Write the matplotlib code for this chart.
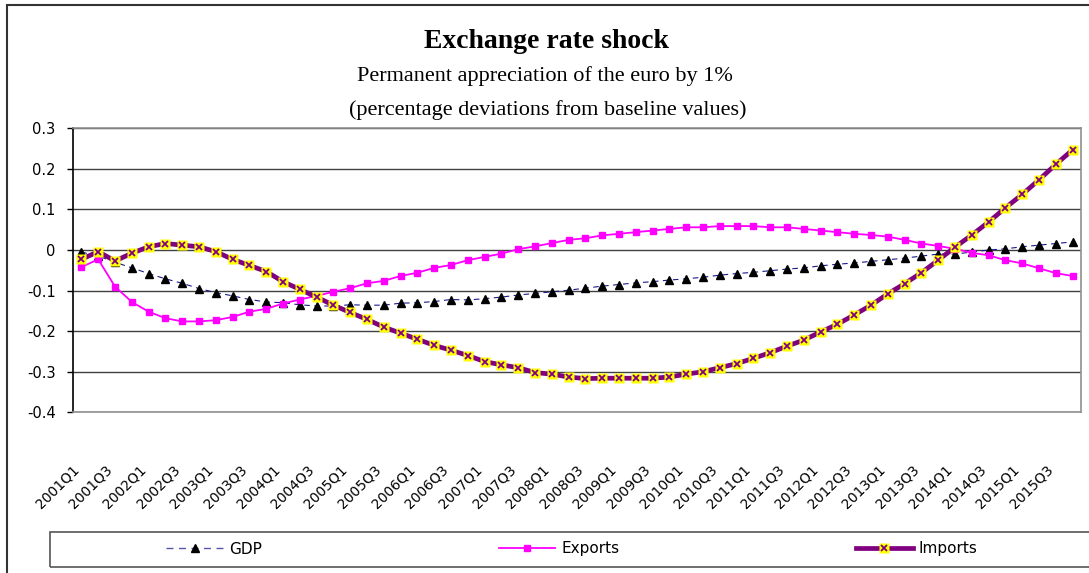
import numpy as np
import matplotlib
matplotlib.use('Agg')
import matplotlib.pyplot as plt
from matplotlib.lines import Line2D
from matplotlib.patches import Rectangle
from matplotlib.legend_handler import HandlerTuple

plt.rcParams['axes.unicode_minus'] = False

# quarters 2001Q1 .. 2015Q4
quarters = [f'{y}Q{q}' for y in range(2001, 2016) for q in range(1, 5)]

gdp = [-0.005, -0.015, -0.030, -0.044, -0.058, -0.071, -0.082, -0.095, -0.105, -0.113,
       -0.122, -0.128, -0.130, -0.135, -0.138, -0.138, -0.135, -0.136, -0.136, -0.131,
       -0.130, -0.127, -0.122, -0.123, -0.120, -0.116, -0.111, -0.107, -0.103, -0.099,
       -0.094, -0.089, -0.085, -0.081, -0.078, -0.074, -0.071, -0.067, -0.062, -0.058,
       -0.055, -0.051, -0.047, -0.044, -0.039, -0.035, -0.032, -0.028, -0.024, -0.020,
       -0.015, -0.010, -0.010, -0.005, 0.000, 0.003, 0.008, 0.012, 0.016, 0.020]

exports = [-0.042, -0.023, -0.090, -0.128, -0.152, -0.168, -0.176, -0.176, -0.173, -0.165,
           -0.152, -0.145, -0.132, -0.122, -0.113, -0.103, -0.094, -0.082, -0.076, -0.064,
           -0.056, -0.044, -0.037, -0.025, -0.017, -0.009, 0.002, 0.009, 0.017, 0.025,
           0.029, 0.036, 0.040, 0.044, 0.048, 0.052, 0.056, 0.056, 0.059, 0.059,
           0.059, 0.056, 0.056, 0.052, 0.048, 0.044, 0.040, 0.037, 0.033, 0.025,
           0.016, 0.010, 0.003, -0.007, -0.013, -0.025, -0.033, -0.045, -0.057, -0.064]

imports = [-0.023, -0.004, -0.027, -0.008, 0.008, 0.016, 0.012, 0.008, -0.004, -0.023,
           -0.038, -0.053, -0.078, -0.097, -0.116, -0.136, -0.154, -0.171, -0.190, -0.205,
           -0.220, -0.235, -0.247, -0.260, -0.275, -0.283, -0.290, -0.302, -0.306, -0.313,
           -0.317, -0.316, -0.316, -0.316, -0.316, -0.313, -0.306, -0.300, -0.290, -0.280,
           -0.267, -0.253, -0.237, -0.222, -0.202, -0.183, -0.160, -0.136, -0.108, -0.083,
           -0.056, -0.025, 0.007, 0.037, 0.069, 0.104, 0.137, 0.173, 0.211, 0.247]

y_ticks = [0.3, 0.2, 0.1, 0, -0.1, -0.2, -0.3, -0.4]

W, H = 1089, 573
fig = plt.figure(figsize=(W / 100, H / 100), dpi=100)
ax = fig.add_axes([73 / W, 1 - 412.3 / H, (1081 - 73) / W, (412.3 - 128.3) / H])

x = np.arange(len(quarters)) + 0.5

# GDP: dashed navy line, black triangles
ax.plot(x, gdp, color='#1a1a8c', lw=0.8, dashes=(5, 4), marker='^',
        ms=5.5, mfc='black', mec='black', zorder=3)
# Exports: magenta with squares
ax.plot(x, exports, color='#ff00ff', lw=1.3, marker='s', ms=4,
        mfc='#ff00ff', mec='#ff00ff', zorder=4)
# Imports: thick purple, yellow squares with purple crosses
ax.plot(x, imports, color='#800080', lw=3.4, marker='s', ms=6.8,
        mfc='#ffff00', mec='none', zorder=5)
ax.plot(x, imports, ls='none', marker='x', ms=4.5, mew=1.3, color='#800080', zorder=6)

ax.set_xlim(0, len(quarters))
ax.set_ylim(-0.4, 0.3)
ax.set_yticks(y_ticks)
ax.set_yticklabels([f'{v:g}' for v in y_ticks])
ax.set_xticks(x[::2])
ax.set_xticklabels(quarters[::2], rotation=45, ha='right', va='top')

ax.tick_params(axis='y', length=4, width=1, pad=8.5, labelsize=10.5, colors='black')
ax.tick_params(axis='x', length=0, pad=36, labelsize=10)
for lab in ax.get_xticklabels() + ax.get_yticklabels():
    lab.set_family(['Liberation Sans Narrow', 'DejaVu Sans'])

ax.grid(axis='y', color='#404040', lw=1)
ax.set_axisbelow(True)
ax.spines['left'].set_color('black')
ax.spines['left'].set_linewidth(1.2)
for s in ['top', 'right', 'bottom']:
    ax.spines[s].set_color('#909090')
    ax.spines[s].set_linewidth(1.2)

# titles
fig.text(546 / W, 1 - 41 / H, 'Exchange rate shock', ha='center', va='center',
         fontsize=20, fontweight='bold', family=['Liberation Serif', 'DejaVu Serif'])
fig.text(545 / W, 1 - 76 / H, 'Permanent appreciation of the euro by 1%', ha='center',
         va='center', fontsize=16, family=['Liberation Serif', 'DejaVu Serif'])
fig.text(548 / W, 1 - 110 / H, '(percentage deviations from baseline values)', ha='center',
         va='center', fontsize=16, family=['Liberation Serif', 'DejaVu Serif'])

# outer chart border (top and left only visible) and legend box
fig.add_artist(Rectangle((6.5 / W, -0.2), 2, 1.2 - 5 / H, transform=fig.transFigure,
                         fill=False, ec='#333333', lw=1.5))
fig.add_artist(Rectangle((50 / W, 1 - 567 / H), 1.0, 35 / H, transform=fig.transFigure,
                         fill=False, ec='#555555', lw=1.2))

h_gdp = Line2D([], [], color='#5555aa', lw=1, dashes=(5, 4), marker='^', ms=5.5,
               mfc='black', mec='black')
h_exp = Line2D([], [], color='#ff00ff', lw=1.3, marker='s', ms=4, mfc='#ff00ff', mec='#ff00ff')
h_imp_sq = Line2D([], [], color='#800080', lw=3.4, marker='s', ms=6.8, mfc='#ffff00', mec='none')
h_imp_x = Line2D([], [], ls='none', marker='x', ms=4.5, mew=1.3, color='#800080')

fig.legend([h_gdp, h_exp, (h_imp_sq, h_imp_x)], ['GDP', 'Exports', 'Imports'],
           handler_map={tuple: HandlerTuple(ndivide=1)},
           loc='center', bbox_to_anchor=(572 / W, 1 - 549 / H), ncol=3, frameon=False,
           handlelength=3.7, handletextpad=0.4, columnspacing=15.5,
           prop={'family': ['Liberation Sans Narrow', 'DejaVu Sans'], 'size': 11})

fig.savefig('out.png', dpi=100, facecolor='white')
